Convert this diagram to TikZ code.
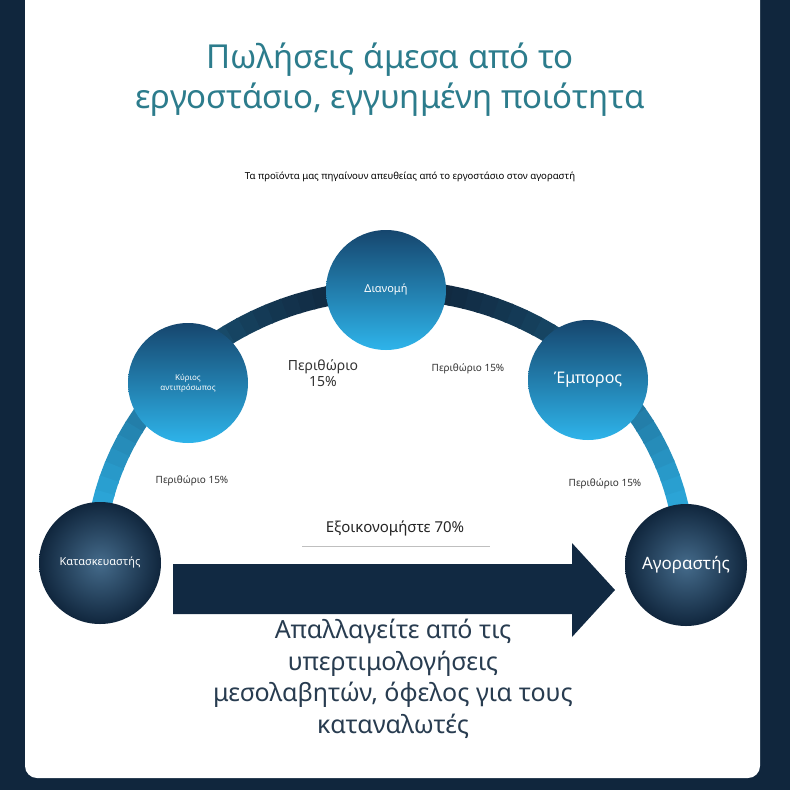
\documentclass[tikz,border=0pt]{standalone}
\usepackage{fontspec}
\setmainfont{Noto Sans}
\definecolor{navy}{HTML}{10263D}
\definecolor{teal}{HTML}{2C7C8C}
\definecolor{deep}{HTML}{16466E}
\definecolor{sky}{HTML}{2EB4EA}
\tikzset{
  stop/.style={circle, minimum size=120pt, inner sep=0pt, text=white, align=center, top color=deep, bottom color=sky},
  endstop/.style={circle, minimum size=122pt, inner sep=0pt, text=white, align=center, inner color=deep!80!white, outer color=navy},
  margin/.style={font=\fontsize{10}{12}\selectfont, text=black!80, align=center}
}
\begin{document}
\begin{tikzpicture}[x=1pt,y=-1pt]
  \useasboundingbox (0,0) rectangle (790,790);
  \fill[navy] (0,0) rectangle (790,790);
  \fill[white, rounded corners=12pt] (25,-20) rectangle (760,778);
  % title
  \node[text=teal, font=\fontsize{33}{40}\selectfont, align=center] (title) at (390,80)
    {Πωλήσεις άμεσα από το\\εργοστάσιο, εγγυημένη ποιότητα};
  \node[font=\fontsize{9.6}{11}\selectfont] (sub) at (410,177)
    {Τα προϊόντα μας πηγαίνουν απευθείας από το εργοστάσιο στον αγοραστή};
  % arch
  \foreach \a in {0,3,...,177}
    \pgfmathsetmacro{\mix}{100*abs(sin(\a+1.5))^1.5}
    \draw[line width=20pt, color=navy!\mix!sky] ({390+295*cos(\a)},{563-273*sin(\a)})
      arc[start angle=\a, end angle=\a+3.4, x radius=295, y radius=-273];
  % stops
  \node[endstop, font=\fontsize{11}{13}\selectfont] (maker) at (100,563) {Κατασκευαστής};
  \node[stop, font=\fontsize{8}{10}\selectfont] (agent) at (188,383) {Κύριος\\αντιπρόσωπος};
  \node[stop, font=\fontsize{11}{13}\selectfont] (dist) at (386,290) {Διανομή};
  \node[stop, font=\fontsize{16}{18}\selectfont] (dealer) at (588,380) {Έμπορος};
  \node[endstop, font=\fontsize{17}{20}\selectfont] (buyer) at (686,565) {Αγοραστής};
  % margins
  \node[margin, font=\fontsize{14}{16}\selectfont] (m2) at (323,373) {Περιθώριο\\15\%};
  \node[margin] (m3) at (468,369) {Περιθώριο 15\%};
  \node[margin] (m1) at (192,481) {Περιθώριο 15\%};
  \node[margin] (m4) at (605,484) {Περιθώριο 15\%};
  % direct arrow
  \node[font=\fontsize{15}{18}\selectfont, text=black!85] (save) at (395,528) {Εξοικονομήστε 70\%};
  \draw[black!25] (302,546) -- (490,546);
  \fill[navy!90!deep] (173,564) -- (572,564) -- (572,543) -- (615,590) -- (572,637)
    -- (572,614) -- (173,614) -- cycle;
  \node[font=\fontsize{25}{31.5}\selectfont, text=navy!90, align=center] (note) at (393,679)
    {Απαλλαγείτε από τις\\υπερτιμολογήσεις\\μεσολαβητών, όφελος για τους\\καταναλωτές};
\end{tikzpicture}
\end{document}
